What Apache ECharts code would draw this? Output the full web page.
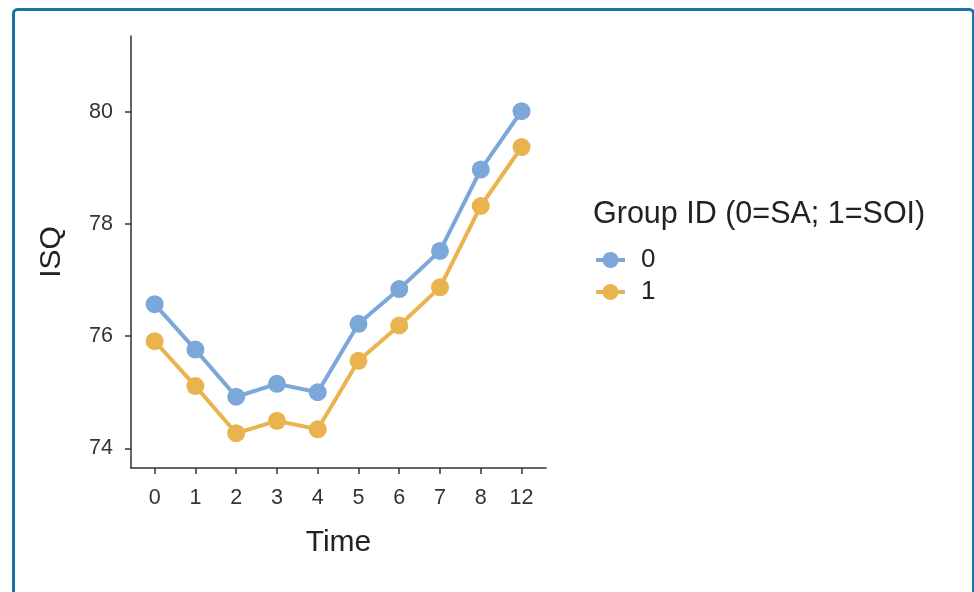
<!DOCTYPE html>
<html>
<head>
<meta charset="utf-8">
<script src="https://cdn.jsdelivr.net/npm/echarts@6/dist/echarts.min.js"></script>
<style>
html,body{margin:0;padding:0;background:#fff;}
#chart{width:974px;height:592px;}
</style>
</head>
<body>
<div id="chart"></div>
<script>
var timeLabels = ['0','1','2','3','4','5','6','7','8','12'];
var group0 = [76.57, 75.76, 74.92, 75.15, 75.00, 76.22, 76.84, 77.52, 78.97, 80.01];
var group1 = [75.91, 75.11, 74.27, 74.49, 74.34, 75.56, 76.19, 76.87, 78.32, 79.37];
var yTicks = [74, 76, 78, 80];
var seriesNames = ['0', '1'];
var colors = ['#7ba7d9', '#e9b44e'];

var idx = timeLabels.map(function(_, i){ return i; });
function toData(arr){ return arr.map(function(v, i){ return [i, v]; }); }

var chart = echarts.init(document.getElementById('chart'), null, {renderer:'canvas'});
var font = 'Liberation Sans, Arial, Helvetica, sans-serif';
chart.setOption({
  animation: false,
  backgroundColor: '#ffffff',
  color: colors,
  textStyle: {fontFamily: font},
  graphic: [{
    type: 'rect',
    left: 11, top: 7,
    shape: {width: 960, height: 620, r: 4},
    style: {fill: 'none', stroke: '#1a74a8', lineWidth: 3},
    z: 100
  }],
  title: {
    text: 'Group ID (0=SA; 1=SOI)',
    left: 593, top: 199,
    padding: 0,
    textStyle: {fontFamily: font, fontSize: 30.5, fontWeight: 'normal', color: '#222222'}
  },
  legend: {
    orient: 'vertical',
    left: 594, top: 247,
    padding: 0,
    itemWidth: 29, itemHeight: 20,
    itemGap: 6,
    data: seriesNames,
    lineStyle: {width: 4},
    textStyle: {fontFamily: font, fontSize: 26, lineHeight: 26, color: '#222222', padding: [0,0,0,11]}
  },
  grid: {left: 131, right: 428, top: 36, bottom: 124, containLabel: false},
  xAxis: {
    type: 'value',
    min: -0.58, max: 9.6,
    name: 'Time',
    nameLocation: 'middle',
    nameGap: 60,
    nameTextStyle: {fontFamily: font, fontSize: 30, color: '#222222'},
    axisLine: {show: true, onZero: false, lineStyle: {color: '#333333', width: 1.5}},
    axisTick: {show: true, length: 6, lineStyle: {color: '#333333', width: 1.5}, customValues: idx},
    axisLabel: {
      fontFamily: font, fontSize: 21.5, color: '#333333', margin: 19,
      customValues: idx,
      formatter: function(v){ return timeLabels[Math.round(v)]; }
    },
    splitLine: {show: false}
  },
  yAxis: {
    type: 'value',
    min: 73.65, max: 81.35,
    name: 'ISQ',
    nameLocation: 'middle',
    nameGap: 64,
    nameRotate: 90,
    nameTextStyle: {fontFamily: font, fontSize: 30, color: '#222222'},
    axisLine: {show: true, onZero: false, lineStyle: {color: '#333333', width: 1.5}},
    axisTick: {show: true, length: 6, lineStyle: {color: '#333333', width: 1.5}, customValues: yTicks},
    axisLabel: {fontFamily: font, fontSize: 21.5, color: '#333333', margin: 18, customValues: yTicks},
    splitLine: {show: false}
  },
  series: [
    {
      name: seriesNames[0], type: 'line', data: toData(group0),
      symbol: 'circle', symbolSize: 18,
      lineStyle: {width: 4, color: colors[0]},
      itemStyle: {color: colors[0]}
    },
    {
      name: seriesNames[1], type: 'line', data: toData(group1),
      symbol: 'circle', symbolSize: 18,
      lineStyle: {width: 4, color: colors[1]},
      itemStyle: {color: colors[1]}
    }
  ]
});
</script>
</body>
</html>
